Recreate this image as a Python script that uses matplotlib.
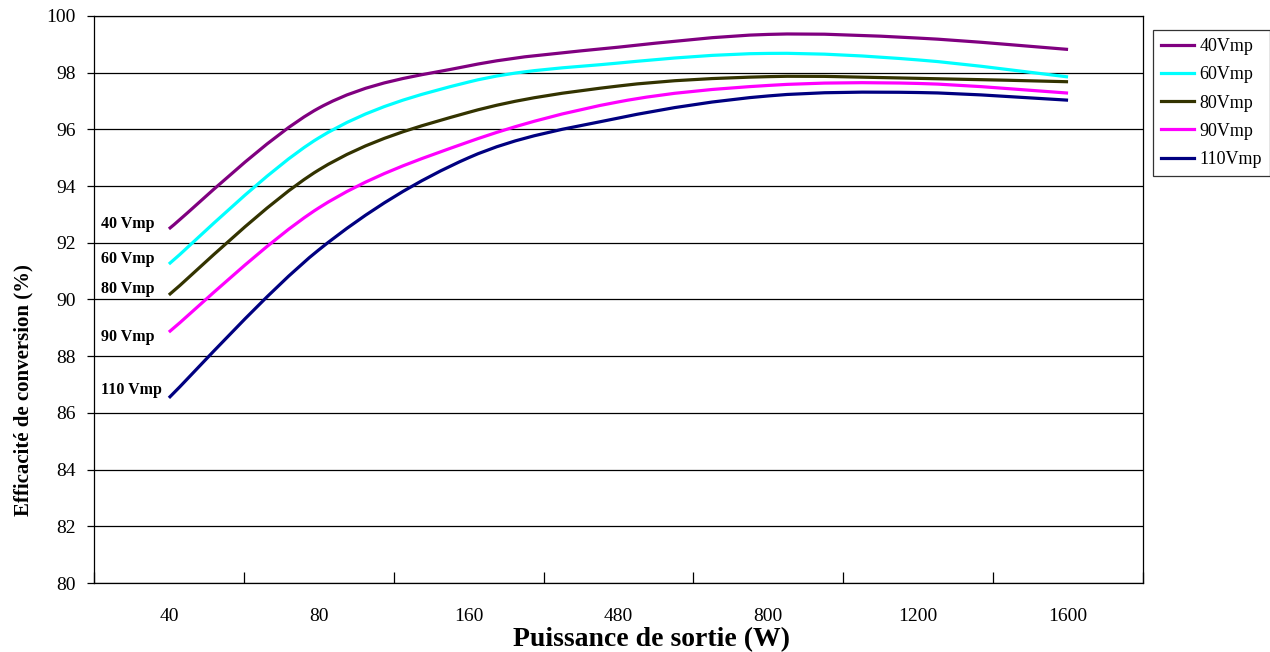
import matplotlib
matplotlib.use('Agg')
import matplotlib.pyplot as plt
from matplotlib.path import Path
from matplotlib.patches import PathPatch
from matplotlib.lines import Line2D
import numpy as np

# categories on the x axis (evenly spaced, not numeric)
power_labels = ['40', '80', '160', '480', '800', '1200', '1600']

# efficiency, one list per input voltage
eff_40 = [92.49, 96.75, 98.24, 98.90, 99.35, 99.22, 98.82]
eff_60 = [91.25, 95.70, 97.67, 98.34, 98.68, 98.45, 97.85]
eff_80 = [90.16, 94.57, 96.60, 97.53, 97.86, 97.80, 97.68]
eff_90 = [88.85, 93.23, 95.56, 96.97, 97.55, 97.62, 97.28]
eff_110 = [86.53, 91.75, 95.00, 96.40, 97.18, 97.30, 97.03]

series_names = ['40Vmp', '60Vmp', '80Vmp', '90Vmp', '110Vmp']
inline_labels = ['40 Vmp', '60 Vmp', '80 Vmp', '90 Vmp', '110 Vmp']
inline_y = [92.66, 91.43, 90.37, 88.68, 86.81]
colors = ['#800080', '#00FFFF', '#333300', '#FF00FF', '#000080']

serif = ['Liberation Serif', 'DejaVu Serif']


def smooth_path(xs, ys):
    # bezier path like the "smoothed line" option of a spreadsheet chart
    pts = np.column_stack([xs, ys]).astype(float)
    n = len(pts)
    verts = [pts[0]]
    codes = [Path.MOVETO]
    for i in range(n - 1):
        p0 = pts[i - 1] if i > 0 else pts[i]
        p1 = pts[i]
        p2 = pts[i + 1]
        p3 = pts[i + 2] if i + 2 < n else pts[i + 1]
        c1 = p1 + (p2 - p0) / 6.0
        c2 = p2 - (p3 - p1) / 6.0
        verts += [c1, c2, p2]
        codes += [Path.CURVE4] * 3
    return Path(verts, codes)


fig = plt.figure(figsize=(12.7, 6.52), dpi=100)
ax = fig.add_axes([0.074, 0.1058, 0.826, 0.8697])

x = np.arange(len(power_labels))
all_series = [eff_40, eff_60, eff_80, eff_90, eff_110]

handles = []
for vals, name, col in zip(all_series, series_names, colors):
    patch = PathPatch(smooth_path(x, vals), facecolor='none', edgecolor=col,
                      lw=2.3, capstyle='butt', zorder=3)
    ax.add_patch(patch)
    handles.append(Line2D([], [], color=col, lw=2.3, label=name))

for lab, yy in zip(inline_labels, inline_y):
    ax.text(-0.455, yy, lab, ha='left', va='center', fontsize=11.5,
            fontweight='bold', family=serif, color='black', zorder=4)

ax.set_xlim(-0.5, len(power_labels) - 0.5)
ax.set_ylim(80, 100)

ax.set_yticks(np.arange(80, 101, 2))
ax.set_yticklabels([str(v) for v in range(80, 101, 2)], family=serif, fontsize=14)
ax.yaxis.grid(True, color='black', lw=0.9)
ax.set_axisbelow(True)

# category labels in the middle, tick marks on the boundaries
ax.set_xticks(x)
ax.set_xticklabels(power_labels, family=serif, fontsize=14)
ax.tick_params(axis='x', which='major', length=0, pad=18)
ax.set_xticks(np.arange(-0.5, len(power_labels), 1.0), minor=True)
ax.tick_params(axis='x', which='minor', direction='in', length=8, width=0.9)
ax.tick_params(axis='y', direction='out', length=5, width=0.9, pad=8)

for sp in ax.spines.values():
    sp.set_color('black')
    sp.set_linewidth(0.9)

ax.set_xlabel('Puissance de sortie (W)', family=serif, fontweight='bold',
              fontsize=20)
ax.xaxis.set_label_coords(0.531, -0.0785)
ax.set_ylabel('Efficacité de conversion (%)', family=serif, fontweight='bold',
              fontsize=15)
ax.yaxis.set_label_coords(-0.058, 0.34)

leg = fig.legend(handles=handles, loc='upper left', bbox_to_anchor=(0.908, 0.954),
                 prop={'family': serif, 'size': 13}, frameon=True, fancybox=False,
                 edgecolor='black', handlelength=1.8, handletextpad=0.3,
                 labelspacing=0.62, borderpad=0.45, borderaxespad=0)
leg.get_frame().set_linewidth(0.9)

fig.savefig('out.png', dpi=100)
